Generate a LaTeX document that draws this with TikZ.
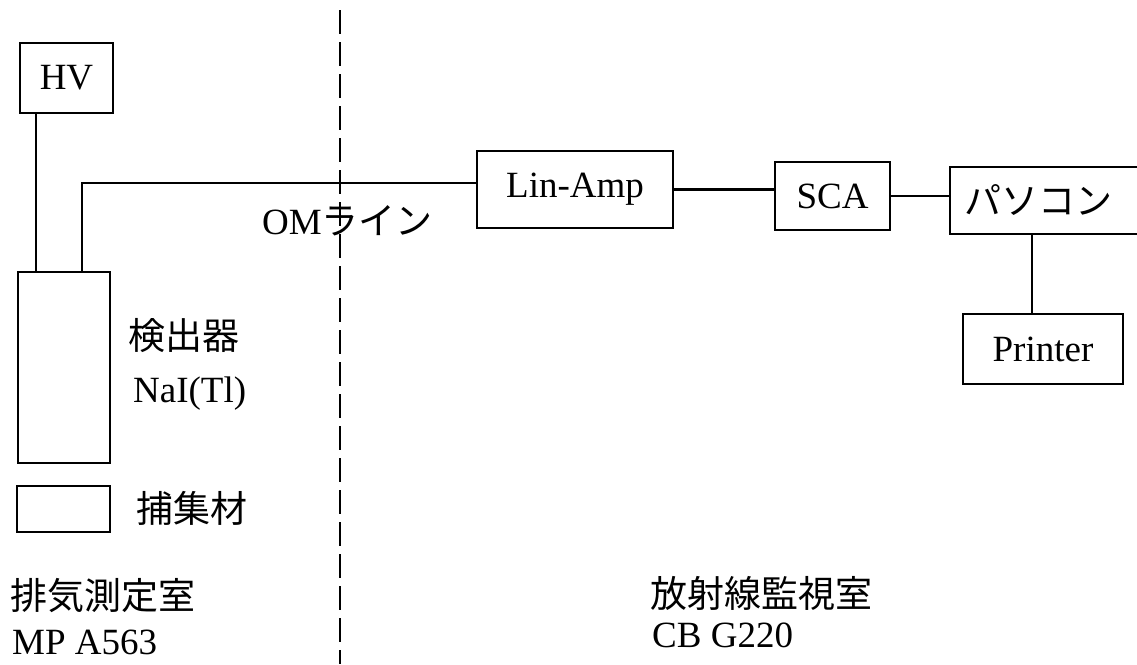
\documentclass[tikz,border=0pt]{standalone}
\usepackage{fontspec}
\setmainfont{Liberation Serif}
\newfontfamily\jp{Noto Sans CJK JP}
\begin{document}
\begin{tikzpicture}[x=1pt,y=-1pt,
  box/.style={draw,line width=2.4pt,inner sep=0pt,font=\fontsize{37}{40}\selectfont},
  lbl/.style={anchor=base west,inner sep=0pt,font=\fontsize{37}{40}\selectfont},
  wire/.style={line width=2.4pt}]
  \useasboundingbox (0,0) rectangle (1137,664);
  \clip (0,0) rectangle (1137,664);
  \foreach \n/\x/\y/\w/\h/\t in {hv/66.5/78/93/70/HV, det/64/367.5/92/191/,
      col/63.5/509/93/46/, amp/575/189.5/196/77/Lin-Amp,
      sca/832.5/196/115/68/SCA, prn/1043/349/160/70/Printer}
    \node[box,minimum width=\w pt,minimum height=\h pt] (\n) at (\x,\y) {\t};
  \node[box,anchor=west,minimum height=67pt,text width=170pt,inner xsep=14pt,
    align=left] (pc) at (949,200.5) {\jp パソコン};
  \coordinate (hvx) at (36,0); \coordinate (sigx) at (82,0);
  \coordinate (sigy) at (0,183); \coordinate (prnx) at (1032,0);
  \coordinate (wtop) at (340,10); \coordinate (wbot) at (340,664);
  \draw[wire] (hv.south -| hvx) -- (det.north -| hvx);
  \draw[wire] (det.north -| sigx) |- (amp.west |- sigy);
  \draw[wire] (amp.east) -- (amp.east -| sca.west);
  \draw[wire] (sca.east) -- (sca.east -| pc.west);
  \draw[wire] (prn.north -| prnx) -- (pc.south -| prnx);
  \draw[wire,line width=2pt,dash pattern=on 24pt off 8pt] (wtop) -- (wbot);
  \node[lbl] (om) at (262,234) {OM\jp ライン};
  \node[lbl] (detj) at (128,349) {\jp 検出器};
  \node[lbl] (nai) at (133,402) {NaI(Tl)};
  \node[lbl] (colj) at (136,522) {\jp 捕集材};
  \node[lbl] (mpj) at (10,609) {\jp 排気測定室};
  \node[lbl] (mp) at (12,654) {MP A563};
  \node[lbl] (cbj) at (650,607) {\jp 放射線監視室};
  \node[lbl] (cb) at (652,647) {CB G220};
\end{tikzpicture}
\end{document}
